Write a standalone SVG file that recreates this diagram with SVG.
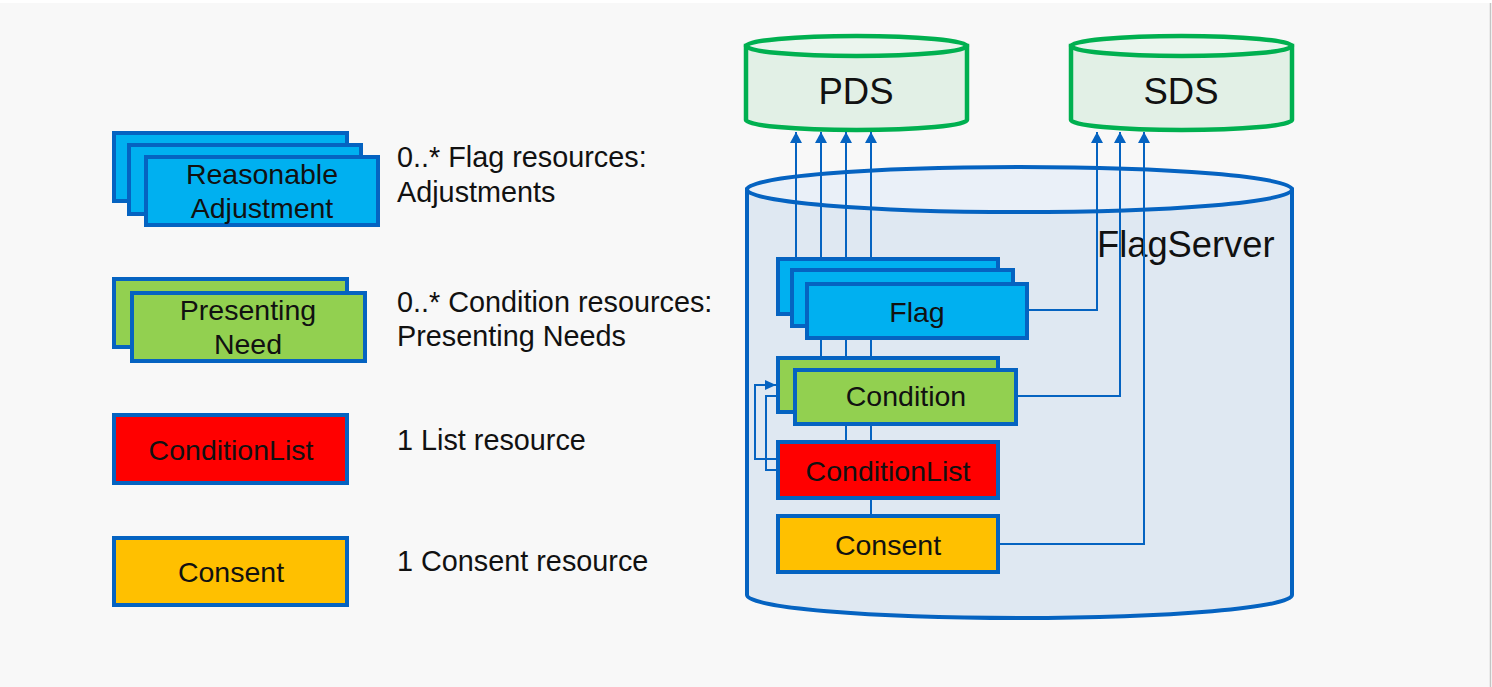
<svg xmlns="http://www.w3.org/2000/svg" width="1492" height="687" viewBox="0 0 1492 687">
<style>
text{font-family:"Liberation Sans",Arial,sans-serif;fill:#111}
.box{stroke:#0563C1;stroke-width:4}
.blue{fill:#00B0F0}.green{fill:#92D050}.red{fill:#FF0000}.amber{fill:#FFC000}
.bt{font-size:28.5px;text-anchor:middle}
.lt{font-size:28.8px}
.db{fill:#E2F0E6;stroke:#00B050;stroke-width:4.5}
.dbtop{fill:#EBF5EE;stroke:#00B050;stroke-width:4.5}
.fs{fill:#DFE8F2;stroke:#0563C1;stroke-width:4}
.fstop{fill:#EAF0F8;stroke:#0563C1;stroke-width:4}
.cn{fill:none;stroke:#0563C1;stroke-width:2}
</style>
<defs>
<marker id="arr" viewBox="0 0 11 12" refX="11" refY="6" markerWidth="11" markerHeight="12" markerUnits="userSpaceOnUse" orient="auto"><path d="M0,0 L11,6 L0,12 z" fill="#0563C1"/></marker>
<marker id="arrs" viewBox="0 0 11 10" refX="11" refY="5" markerWidth="11" markerHeight="10" markerUnits="userSpaceOnUse" orient="auto"><path d="M0,0 L11,5 L0,10 z" fill="#0563C1"/></marker>
</defs>
<rect x="0" y="0" width="1492" height="687" fill="#FFFFFF"/>
<rect x="0" y="3" width="1490" height="684" fill="#F8F8F8"/>
<line x1="1490.5" y1="3" x2="1490.5" y2="687" stroke="#C4C4C4" stroke-width="1.5"/>

<!-- Legend -->
<g id="legend-reasonable-adjustment">
<rect class="box blue" x="114" y="133" width="233" height="68"/>
<rect class="box blue" x="129" y="145" width="232" height="69"/>
<rect class="box blue" x="146" y="157" width="232" height="68"/>
<text class="bt" x="262" y="184">Reasonable</text>
<text class="bt" x="262" y="218">Adjustment</text>
</g>
<g id="legend-presenting-need">
<rect class="box green" x="114" y="279" width="233" height="68"/>
<rect class="box green" x="132" y="293" width="233" height="68"/>
<text class="bt" x="248" y="320">Presenting</text>
<text class="bt" x="248" y="354">Need</text>
</g>
<g id="legend-conditionlist">
<rect class="box red" x="114" y="415" width="233" height="68"/>
<text class="bt" x="231" y="460">ConditionList</text>
</g>
<g id="legend-consent">
<rect class="box amber" x="114" y="538" width="233" height="67"/>
<text class="bt" x="231" y="582">Consent</text>
</g>
<g id="legend-text">
<text class="lt" x="397" y="167">0..* Flag resources:</text>
<text class="lt" x="397" y="202">Adjustments</text>
<text class="lt" x="397" y="312">0..* Condition resources:</text>
<text class="lt" x="397" y="346">Presenting Needs</text>
<text class="lt" x="397" y="450">1 List resource</text>
<text class="lt" x="397" y="571">1 Consent resource</text>
</g>

<!-- Data stores -->
<g id="pds">
<path class="db" d="M746,46 V120 A110.5,10 0 0 0 967,120 V46 Z"/>
<ellipse class="dbtop" cx="856.5" cy="46" rx="110.5" ry="10"/>
<text x="856" y="104" font-size="36.5" text-anchor="middle">PDS</text>
</g>
<g id="sds">
<path class="db" d="M1071,46 V120 A110.5,10 0 0 0 1292,120 V46 Z"/>
<ellipse class="dbtop" cx="1181.5" cy="46" rx="110.5" ry="10"/>
<text x="1181" y="104" font-size="36.5" text-anchor="middle">SDS</text>
</g>
<g id="flagserver">
<path class="fs" d="M747,189.5 V595 A272.5,23 0 0 0 1292,595 V189.5 Z"/>
<ellipse class="fstop" cx="1019.5" cy="189.5" rx="272.5" ry="22.5"/>
<text x="1097" y="257" font-size="36.3">FlagServer</text>
</g>

<!-- Connectors -->
<g id="connectors">
<path class="cn" d="M796,257 V132" marker-end="url(#arr)"/>
<path class="cn" d="M821,356 V132" marker-end="url(#arr)"/>
<path class="cn" d="M846,440 V132" marker-end="url(#arr)"/>
<path class="cn" d="M871,514 V132" marker-end="url(#arr)"/>
<path class="cn" d="M1029,310 H1097 V132" marker-end="url(#arr)"/>
<path class="cn" d="M1018,396 H1120 V132" marker-end="url(#arr)"/>
<path class="cn" d="M1000,544 H1144 V132" marker-end="url(#arr)"/>
<path class="cn" d="M776,459 H755 V385 H776" marker-end="url(#arrs)"/>
<path class="cn" d="M776,470 H766 V396 H793" marker-end="url(#arrs)"/>
</g>

<!-- Resources in FlagServer -->
<g id="flag">
<rect class="box blue" x="778" y="259" width="220" height="55"/>
<rect class="box blue" x="792" y="270" width="221" height="56"/>
<rect class="box blue" x="807" y="284" width="220" height="54"/>
<text class="bt" x="917" y="322">Flag</text>
</g>
<g id="condition">
<rect class="box green" x="778" y="358" width="220" height="54"/>
<rect class="box green" x="795" y="370" width="221" height="54"/>
<text class="bt" x="906" y="406">Condition</text>
</g>
<g id="conditionlist">
<rect class="box red" x="778" y="442" width="220" height="56"/>
<text class="bt" x="888" y="481">ConditionList</text>
</g>
<g id="consent">
<rect class="box amber" x="778" y="516" width="220" height="56"/>
<text class="bt" x="888" y="555">Consent</text>
</g>
</svg>
